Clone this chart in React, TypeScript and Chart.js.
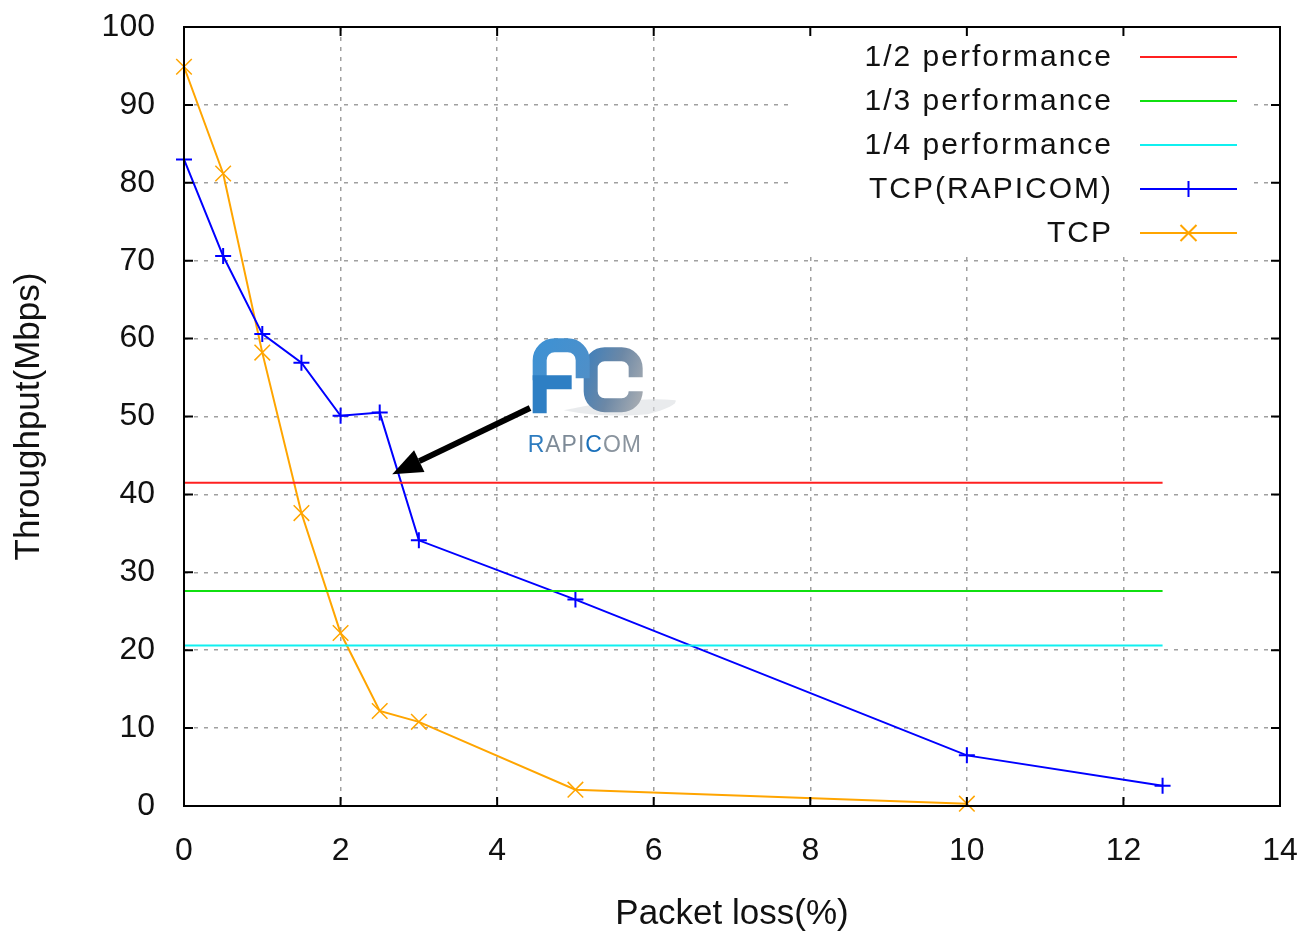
import React, { useEffect, useRef } from 'react';
import { Chart, registerables } from 'chart.js';

Chart.register(...registerables);

// ---- data ----
const RAPICOM_LOSS = [0, 0.5, 1, 1.5, 2, 2.5, 3, 5, 10, 12.5];
const RAPICOM_THROUGHPUT = [83.0, 70.6, 60.6, 56.9, 50.1, 50.5, 34.1, 26.5, 6.5, 2.6];
const TCP_LOSS = [0, 0.5, 1, 1.5, 2, 2.5, 3, 5, 10];
const TCP_THROUGHPUT = [94.9, 81.2, 58.2, 37.6, 22.2, 12.2, 10.8, 2.1, 0.3];
const PERF_LOSS = [0, 12.5];
const HALF_PERF = [41.5, 41.5];
const THIRD_PERF = [27.6, 27.6];
const QUARTER_PERF = [20.6, 20.6];
const SERIES_LABELS = ['1/2 performance', '1/3 performance', '1/4 performance', 'TCP(RAPICOM)', 'TCP'];
const X_TITLE = 'Packet loss(%)';
const Y_TITLE = 'Throughput(Mbps)';
const LOGO_TEXT = 'RAPICOM';

const FONT = '"Liberation Sans", Arial, sans-serif';

const toPoints = (xs: number[], ys: number[]) => xs.map((x, i) => ({ x, y: ys[i] }));

function drawLogo(ctx: CanvasRenderingContext2D, ox: number, oy: number) {
  ctx.save();
  ctx.translate(ox, oy);
  // faint swoosh shadow
  ctx.fillStyle = 'rgba(218,221,225,0.6)';
  ctx.beginPath();
  ctx.moveTo(36, 74);
  ctx.quadraticCurveTo(100, 60, 148, 64);
  ctx.quadraticCurveTo(150, 70, 120, 78);
  ctx.quadraticCurveTo(75, 82, 36, 74);
  ctx.closePath();
  ctx.fill();

  const grad = ctx.createLinearGradient(0, 10, 116, 50);
  grad.addColorStop(0, '#3890d4');
  grad.addColorStop(0.45, '#3d7fbc');
  grad.addColorStop(0.75, '#6c88a6');
  grad.addColorStop(1, '#a2a9b1');
  ctx.lineWidth = 14;
  ctx.lineJoin = 'miter';
  ctx.lineCap = 'butt';
  // C
  ctx.strokeStyle = grad;
  ctx.beginPath();
  ctx.moveTo(108, 41);
  ctx.lineTo(108, 32);
  ctx.arcTo(108, 18, 94, 18, 14);
  ctx.lineTo(77, 18);
  ctx.arcTo(63, 18, 63, 32, 14);
  ctx.lineTo(63, 55);
  ctx.arcTo(63, 69, 77, 69, 14);
  ctx.lineTo(94, 69);
  ctx.arcTo(108, 69, 108, 55, 14);
  ctx.lineTo(108, 57);
  ctx.stroke();
  // R: top arch
  const gradR = ctx.createLinearGradient(0, 0, 60, 40);
  gradR.addColorStop(0, '#3a92d6');
  gradR.addColorStop(1, '#4f8fc8');
  ctx.strokeStyle = gradR;
  ctx.beginPath();
  ctx.moveTo(12, 44);
  ctx.lineTo(12, 24);
  ctx.arcTo(12, 9, 27, 9, 15);
  ctx.lineTo(40, 9);
  ctx.arcTo(55, 9, 55, 24, 15);
  ctx.lineTo(55, 42);
  ctx.stroke();
  // R: middle bar + lower stem
  ctx.strokeStyle = '#2e7fc4';
  ctx.beginPath();
  ctx.moveTo(44, 46);
  ctx.lineTo(12, 46);
  ctx.lineTo(12, 77);
  ctx.stroke();

  // RAPICOM text
  ctx.font = `23px ${FONT}`;
  ctx.textBaseline = 'alphabetic';
  ctx.textAlign = 'left';
  const colors = ['#2d7cc0', '#7d8a97', '#7d8a97', '#7d8a97', '#1a70bb', '#8a949e', '#8a949e'];
  let x = 0;
  for (let i = 0; i < LOGO_TEXT.length; i++) {
    const ch = LOGO_TEXT[i];
    ctx.fillStyle = colors[i];
    ctx.fillText(ch, x, 116);
    x += ctx.measureText(ch).width + 1;
  }
  ctx.restore();
}

const decorPlugin = {
  id: 'gnuplotDecor',
  beforeDatasetsDraw(chart: any) {
    const { ctx, chartArea: a } = chart;
    ctx.save();
    ctx.fillStyle = '#ffffff';
    ctx.fillRect(a.right - 488, a.top + 1, 458, 226);
    ctx.restore();
  },
  afterDatasetsDraw(chart: any) {
    const { ctx, chartArea: a, scales } = chart;
    const xs = scales.x;
    const ys = scales.y;
    ctx.save();
    // frame
    ctx.strokeStyle = '#000';
    ctx.lineWidth = 2;
    ctx.strokeRect(a.left, a.top, a.right - a.left, a.bottom - a.top);
    // inward ticks, mirrored
    const tl = 9;
    ctx.lineWidth = 2;
    ctx.beginPath();
    xs.ticks.forEach((t: any) => {
      const px = xs.getPixelForValue(t.value);
      ctx.moveTo(px, a.bottom);
      ctx.lineTo(px, a.bottom - tl);
      ctx.moveTo(px, a.top);
      ctx.lineTo(px, a.top + tl);
    });
    ys.ticks.forEach((t: any) => {
      const py = ys.getPixelForValue(t.value);
      ctx.moveTo(a.left, py);
      ctx.lineTo(a.left + tl, py);
      ctx.moveTo(a.right, py);
      ctx.lineTo(a.right - tl, py);
    });
    ctx.stroke();

    // legend
    const textRight = a.right - 167;
    const lineL = a.right - 140;
    const lineR = a.right - 43;
    chart.data.datasets.forEach((ds: any, i: number) => {
      const y = a.top + 30 + i * 44;
      ctx.font = `30px ${FONT}`;
      (ctx as any).letterSpacing = '2px';
      ctx.fillStyle = '#111';
      ctx.textAlign = 'right';
      ctx.textBaseline = 'middle';
      ctx.fillText(ds.label, textRight, y + 1);
      (ctx as any).letterSpacing = '0px';
      ctx.strokeStyle = ds.borderColor;
      ctx.lineWidth = 2;
      ctx.beginPath();
      ctx.moveTo(lineL, y);
      ctx.lineTo(lineR, y);
      ctx.stroke();
      if (ds.pointRadius > 0) {
        const cx = (lineL + lineR) / 2;
        ctx.beginPath();
        if (ds.pointStyle === 'cross') {
          ctx.moveTo(cx, y - 8);
          ctx.lineTo(cx, y + 8);
          ctx.moveTo(cx - 8, y);
          ctx.lineTo(cx + 8, y);
        } else {
          ctx.moveTo(cx - 8, y - 8);
          ctx.lineTo(cx + 8, y + 8);
          ctx.moveTo(cx - 8, y + 8);
          ctx.lineTo(cx + 8, y - 8);
        }
        ctx.stroke();
      }
    });

    // arrow annotation
    const x1 = xs.getPixelForValue(4.42);
    const y1 = ys.getPixelForValue(51.1);
    const x2 = xs.getPixelForValue(2.66);
    const y2 = ys.getPixelForValue(42.6);
    const ang = Math.atan2(y2 - y1, x2 - x1);
    const headLen = 30;
    const headHalf = 12;
    const bx = x2 - headLen * Math.cos(ang);
    const by = y2 - headLen * Math.sin(ang);
    ctx.strokeStyle = '#000';
    ctx.fillStyle = '#000';
    ctx.lineWidth = 6;
    ctx.lineCap = 'butt';
    ctx.beginPath();
    ctx.moveTo(x1, y1);
    ctx.lineTo(bx, by);
    ctx.stroke();
    ctx.beginPath();
    ctx.moveTo(x2, y2);
    ctx.lineTo(bx + headHalf * Math.sin(ang), by - headHalf * Math.cos(ang));
    ctx.lineTo(bx - headHalf * Math.sin(ang), by + headHalf * Math.cos(ang));
    ctx.closePath();
    ctx.fill();

    // logo
    drawLogo(ctx, xs.getPixelForValue(4.39), ys.getPixelForValue(60.3));
    ctx.restore();
  },
};

const zeroPadding = (s: any) => {
  s.paddingTop = 0;
  s.paddingBottom = 0;
  s.paddingLeft = 0;
  s.paddingRight = 0;
};

export default function App() {
  const ref = useRef<HTMLCanvasElement | null>(null);
  useEffect(() => {
    if (!ref.current) return;
    const lineDs = (label: string, xsArr: number[], ysArr: number[], color: string) => ({
      label,
      data: toPoints(xsArr, ysArr),
      borderColor: color,
      backgroundColor: color,
      borderWidth: 2,
      pointRadius: 0,
      pointHoverRadius: 0,
      clip: false as any,
    });
    const chart = new Chart(ref.current, {
      type: 'line',
      data: {
        datasets: [
          lineDs(SERIES_LABELS[0], PERF_LOSS, HALF_PERF, '#ff2020'),
          lineDs(SERIES_LABELS[1], PERF_LOSS, THIRD_PERF, '#10e010'),
          lineDs(SERIES_LABELS[2], PERF_LOSS, QUARTER_PERF, '#10f0f0'),
          {
            ...lineDs(SERIES_LABELS[3], RAPICOM_LOSS, RAPICOM_THROUGHPUT, '#0000ff'),
            pointStyle: 'cross',
            pointRadius: 8,
            pointBorderWidth: 2,
          },
          {
            ...lineDs(SERIES_LABELS[4], TCP_LOSS, TCP_THROUGHPUT, '#ffa500'),
            pointStyle: 'crossRot',
            pointRadius: 11,
            pointBorderWidth: 1.5,
          },
        ],
      },
      options: {
        responsive: false,
        animation: false,
        events: [],
        layout: { autoPadding: false, padding: { top: 27, right: 21, left: 0, bottom: 0 } },
        plugins: { legend: { display: false }, tooltip: { enabled: false } },
        scales: {
          x: {
            type: 'linear',
            min: 0,
            max: 14,
            ticks: { stepSize: 2, padding: 26, color: '#111', font: { family: FONT, size: 32 } },
            grid: { color: '#a0a0a0', lineWidth: 1.5, drawTicks: false },
            border: { display: false, dash: [4, 6] },
            title: {
              display: true,
              text: X_TITLE,
              color: '#111',
              font: { family: FONT, size: 35, lineHeight: 1 },
              padding: { top: 0, bottom: 1 },
            },
            afterFit: (s: any) => {
              s.height = 127;
              zeroPadding(s);
            },
          },
          y: {
            min: 0,
            max: 100,
            ticks: { stepSize: 10, padding: 29, color: '#111', font: { family: FONT, size: 32 } },
            grid: { color: '#a0a0a0', lineWidth: 1.5, drawTicks: false },
            border: { display: false, dash: [4, 6] },
            title: {
              display: true,
              text: Y_TITLE,
              color: '#111',
              font: { family: FONT, size: 35, lineHeight: 1 },
              padding: { top: 12, bottom: 0 },
            },
            afterFit: (s: any) => {
              s.width = 184;
              zeroPadding(s);
            },
          },
        },
      },
      plugins: [decorPlugin],
    });
    return () => chart.destroy();
  }, []);
  return (
    <canvas
      ref={ref}
      width={1301}
      height={933}
      style={{ position: 'absolute', left: 0, top: 0, display: 'block', background: '#fff' }}
    />
  );
}
